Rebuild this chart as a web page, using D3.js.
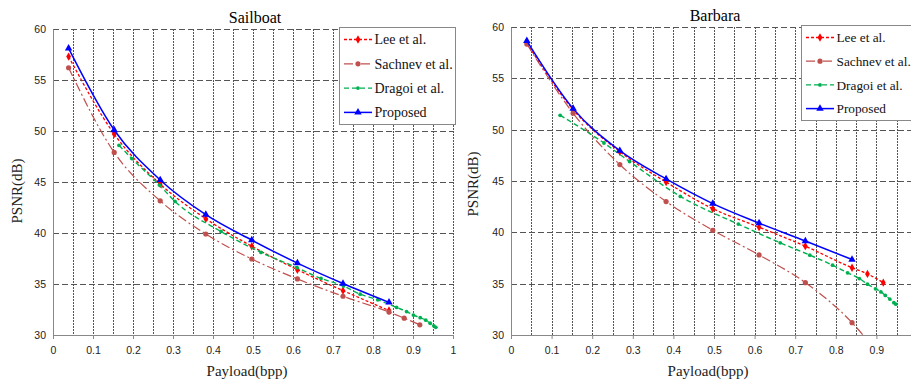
<!DOCTYPE html>
<html>
<head>
<meta charset="utf-8">
<script src="https://cdnjs.cloudflare.com/ajax/libs/d3/7.8.5/d3.min.js"></script>
<style>
  body { margin: 0; background: #fff; }
  svg { display: block; }
</style>
</head>
<body>
<svg id="chart" width="911" height="380"></svg>
<script>
// payload points shared by most methods (bpp)
var payloadX = [0.039, 0.153, 0.268, 0.382, 0.497, 0.611, 0.725, 0.840];

// Sailboat
var sailLeeX = payloadX;
var sailLee = [57.3, 49.7, 44.8, 41.4, 38.7, 36.4, 34.35, 32.4];
var sailSachnevX = payloadX.concat([0.878, 0.917]);
var sailSachnev = [56.2, 47.9, 43.15, 39.9, 37.45, 35.5, 33.8, 32.25, 31.65, 31.0];
var sailDragoiX = [0.165, 0.197, 0.266, 0.305, 0.42, 0.52, 0.61, 0.67, 0.726, 0.768, 0.812, 0.859, 0.884, 0.901, 0.918, 0.932, 0.943, 0.952, 0.957];
var sailDragoi = [48.6, 47.3, 44.7, 43.1, 40.15, 38.1, 36.6, 35.55, 34.8, 34.0, 33.45, 32.7, 32.3, 31.95, 31.7, 31.45, 31.15, 30.9, 30.75];
var sailProposedX = payloadX;
var sailProposed = [58.1, 50.1, 45.2, 41.8, 39.3, 37.05, 35.05, 33.2];

// Barbara
var barbLeeX = payloadX.concat([0.878, 0.917]);
var barbLee = [58.45, 51.95, 47.85, 44.9, 42.3, 40.5, 38.65, 36.55, 35.95, 35.1];
var barbSachnevX = payloadX.concat([0.878]);
var barbSachnev = [58.35, 51.6, 46.6, 43.0, 40.2, 37.8, 35.1, 31.2, 29.5];
var barbDragoiX = [0.121, 0.229, 0.292, 0.417, 0.56, 0.663, 0.736, 0.792, 0.829, 0.858, 0.878, 0.898, 0.911, 0.922, 0.933, 0.943, 0.948];
var barbDragoi = [51.4, 48.7, 46.9, 43.5, 40.8, 38.98, 37.78, 36.8, 36.06, 35.5, 34.95, 34.5, 34.2, 33.85, 33.5, 33.15, 33.0];
var barbProposedX = payloadX;
var barbProposed = [58.65, 52.05, 47.95, 45.2, 42.8, 40.9, 39.15, 37.35];

var seriesNames = ["Lee et al.", "Sachnev et al.", "Dragoi et al.", "Proposed"];
var xTicks = [0, 0.1, 0.2, 0.3, 0.4, 0.5, 0.6, 0.7, 0.8, 0.9, 1];
var yTicks = [30, 35, 40, 45, 50, 55, 60];

// line look for each method
var styles = [
  { color: "#ff0000", dash: "3,2", width: 1.3, marker: "diamond", size: 20 },
  { color: "#c0504d", dash: "9,3,2,3", width: 1.2, marker: "circle", size: 2.6 },
  { color: "#00b050", dash: "5,3", width: 1.4, marker: "circle", size: 1.9 },
  { color: "#0000ff", dash: null, width: 1.5, marker: "triangle", size: 24 }
];

var svg = d3.select("#chart");
var W = 911;
var serif = "'Liberation Serif', 'Times New Roman', serif";
var sans = "'Liberation Sans', Arial, sans-serif";

function zip(xs, ys) {
  return xs.map(function(x, i) { return { x: x, y: ys[i] }; });
}

function drawPanel(cfg, idx) {
  var x = d3.scaleLinear().domain([0, 1]).range([cfg.left, cfg.right]);
  var y = d3.scaleLinear().domain([30, 60]).range([cfg.bottom, cfg.top]);
  var g = svg.append("g");

  // grid
  var vGrid = d3.range(1, 21).map(function(i) { return i * 0.05; });
  g.selectAll(".vg").data(vGrid).enter().append("line")
    .attr("x1", function(d) { return Math.round(x(d)) + 0.5; })
    .attr("x2", function(d) { return Math.round(x(d)) + 0.5; })
    .attr("y1", cfg.top).attr("y2", cfg.bottom)
    .attr("stroke", "#555").attr("stroke-width", 1)
    .attr("stroke-dasharray", "2,1");

  g.selectAll(".hg").data(yTicks.slice(1)).enter().append("line")
    .attr("x1", cfg.left).attr("x2", cfg.right)
    .attr("y1", function(d) { return Math.round(y(d)) + 0.5; })
    .attr("y2", function(d) { return Math.round(y(d)) + 0.5; })
    .attr("stroke", "#555").attr("stroke-width", 1)
    .attr("stroke-dasharray", "6,3");

  // axes (only the labels that fit in the window)
  var shownTicks = xTicks.filter(function(d) { return x(d) < W - 4; });
  var xAxis = d3.axisBottom(x).tickValues(shownTicks).tickSize(4)
    .tickFormat(function(d) { return d3.format("")(+d.toFixed(1)); });
  var gx = g.append("g").attr("transform", "translate(0," + cfg.bottom + ")").call(xAxis);
  gx.select(".domain").attr("stroke", "#888");
  gx.selectAll(".tick line").attr("stroke", "#888");
  gx.selectAll("text").attr("font-family", sans).attr("font-size", 10.5)
    .attr("fill", "#222").attr("dy", "1.1em");

  var yAxis = d3.axisLeft(y).tickValues(yTicks).tickSize(0).tickPadding(7);
  var gy = g.append("g").attr("transform", "translate(" + cfg.left + ",0)").call(yAxis);
  gy.select(".domain").attr("stroke", "#888");
  gy.selectAll("text").attr("font-family", sans).attr("font-size", 10.5).attr("fill", "#222");

  // titles
  g.append("text").attr("x", cfg.titleX).attr("y", cfg.titleY)
    .attr("text-anchor", "middle").attr("font-family", serif).attr("font-size", 16)
    .text(cfg.title);
  g.append("text").attr("x", cfg.xLabelX).attr("y", 376)
    .attr("text-anchor", "middle").attr("font-family", serif).attr("font-size", 15)
    .attr("fill", "#222")
    .text("Payload(bpp)");
  g.append("text")
    .attr("transform", "translate(" + cfg.yLabelX + "," + cfg.yLabelY + ") rotate(-90)")
    .attr("text-anchor", "middle").attr("font-family", serif).attr("font-size", 15)
    .attr("fill", "#222")
    .text("PSNR(dB)");

  // clip for the curves
  var clipId = "clip" + idx;
  svg.append("clipPath").attr("id", clipId).append("rect")
    .attr("x", cfg.left).attr("y", cfg.top - 10)
    .attr("width", cfg.right - cfg.left).attr("height", cfg.bottom - cfg.top + 10);

  var line = d3.line()
    .x(function(d) { return x(d.x); })
    .y(function(d) { return y(d.y); })
    .curve(d3.curveMonotoneX);

  var plot = g.append("g").attr("clip-path", "url(#" + clipId + ")");
  cfg.series.forEach(function(pts, i) {
    var st = styles[i];
    plot.append("path").datum(pts)
      .attr("d", line)
      .attr("fill", "none")
      .attr("stroke", st.color)
      .attr("stroke-width", st.width)
      .attr("stroke-dasharray", st.dash);
    pts.filter(function(d) { return d.y >= 30; }).forEach(function(d) {
      drawMarker(plot, x(d.x), y(d.y), st);
    });
  });

  // legend
  var lg = g.append("g").attr("transform", "translate(" + cfg.legX + "," + cfg.legY + ")");
  lg.append("rect").attr("x", 0.5).attr("y", 0.5)
    .attr("width", cfg.legW).attr("height", cfg.legH)
    .attr("fill", "#fff").attr("stroke", "#888").attr("stroke-width", 1);
  seriesNames.forEach(function(name, i) {
    var st = styles[i];
    var ry = 12.5 + i * cfg.legStep;
    lg.append("line").attr("x1", 5).attr("x2", 33).attr("y1", ry).attr("y2", ry)
      .attr("stroke", st.color).attr("stroke-width", st.width)
      .attr("stroke-dasharray", st.dash);
    drawMarker(lg, 19, ry, st);
    lg.append("text").attr("x", 35.5).attr("y", ry).attr("dy", "0.35em")
      .attr("font-family", serif).attr("font-size", cfg.legFont).attr("fill", "#111")
      .text(name);
  });
}

function drawMarker(sel, cx, cy, st) {
  if (st.marker === "circle") {
    sel.append("circle").attr("cx", cx).attr("cy", cy).attr("r", st.size).attr("fill", st.color);
  } else {
    var type = st.marker === "triangle" ? d3.symbolTriangle : d3.symbolDiamond;
    sel.append("path")
      .attr("d", d3.symbol().type(type).size(st.size)())
      .attr("transform", "translate(" + cx + "," + cy + ")")
      .attr("fill", st.color);
  }
}

drawPanel({
  title: "Sailboat", titleX: 255, titleY: 23,
  left: 53, right: 453, top: 29, bottom: 335,
  xLabelX: 247, yLabelX: 22, yLabelY: 191,
  legX: 339, legY: 27, legW: 116, legH: 97, legStep: 24.3, legFont: 14,
  series: [zip(sailLeeX, sailLee), zip(sailSachnevX, sailSachnev),
           zip(sailDragoiX, sailDragoi), zip(sailProposedX, sailProposed)]
}, 0);

drawPanel({
  title: "Barbara", titleX: 715, titleY: 21,
  left: 511, right: 917, top: 27, bottom: 335,
  xLabelX: 708, yLabelX: 478, yLabelY: 184,
  legX: 801, legY: 25, legW: 130, legH: 95, legStep: 23.7, legFont: 13.3,
  series: [zip(barbLeeX, barbLee), zip(barbSachnevX, barbSachnev),
           zip(barbDragoiX, barbDragoi), zip(barbProposedX, barbProposed)]
}, 1);
</script>
</body>
</html>
